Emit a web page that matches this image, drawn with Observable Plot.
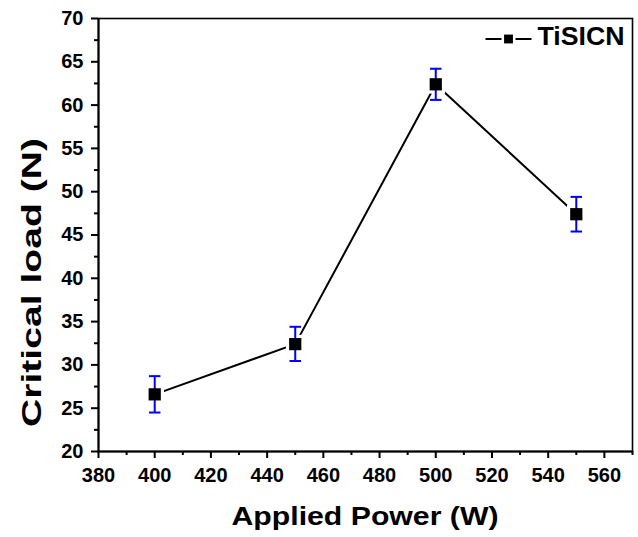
<!DOCTYPE html>
<html><head><meta charset="utf-8">
<script src="https://cdn.jsdelivr.net/npm/d3@7"></script>
<script src="https://cdn.jsdelivr.net/npm/@observablehq/plot@0.6"></script>
<style>
body{margin:0;background:#fff;font-family:"Liberation Sans",Arial,sans-serif}
</style>
</head><body><div id="chart"></div>
<script>
const power = [400, 450, 500, 550];
const load = [26.6, 32.4, 62.4, 47.4];
const errLow = [24.5, 30.45, 60.6, 45.4];
const errHigh = [28.7, 34.4, 64.2, 49.4];
const seriesName = "TiSICN";
const xLabel = "Applied Power (W)";
const yLabel = "Critical load (N)";
const xMajor = [380, 400, 420, 440, 460, 480, 500, 520, 540, 560];
const xMinor = [390, 410, 430, 450, 470, 490, 510, 530, 550, 570];
const yMajor = [20, 25, 30, 35, 40, 45, 50, 55, 60, 65, 70];
const yMinor = [22.5, 27.5, 32.5, 37.5, 42.5, 47.5, 52.5, 57.5, 62.5, 67.5];

const data = power.map((p, i) => ({p, v: load[i], lo: errLow[i], hi: errHigh[i]}));

const capSymbol = {draw(ctx, size) { const w = Math.sqrt(size) / 2; ctx.moveTo(-w, 0); ctx.lineTo(w, 0); }};
const legendLine = {draw(ctx, size) { ctx.moveTo(-23, 0); ctx.lineTo(-7, 0); ctx.moveTo(7, 0); ctx.lineTo(23, 0); }};

const chart = Plot.plot({
  width: 638, height: 537,
  marginTop: 18, marginBottom: 86, marginLeft: 98, marginRight: 6,
  style: {fontFamily: "'Liberation Sans', Arial, sans-serif", fontWeight: "bold", fontSize: "20px", background: "#fff", color: "#000"},
  x: {domain: [380, 570]},
  y: {domain: [20, 70]},
  marks: [
    Plot.frame({stroke: "#000", strokeWidth: 1.6}),
    Plot.axisX({ticks: xMinor, tickSize: 4, tickFormat: () => "", strokeWidth: 2, label: null}),
    Plot.axisY({ticks: yMinor, tickSize: 4, tickFormat: () => "", strokeWidth: 2, label: null}),
    Plot.axisX({ticks: xMajor, tickSize: 7, tickPadding: 9, fontSize: 20, fontWeight: "bold", strokeWidth: 2, label: null}),
    Plot.axisY({ticks: yMajor, tickSize: 7, tickPadding: 8, fontSize: 20, fontWeight: "bold", strokeWidth: 2, label: null}),
    Plot.ruleY([20], {stroke: "#000", strokeWidth: 2}),
    Plot.ruleX([380], {stroke: "#000", strokeWidth: 2}),
    Plot.line(data, {x: "p", y: "v", stroke: "#000", strokeWidth: 2}),
    Plot.dot(data, {x: "p", y: "v", symbol: "square", r: 10.5, fill: "#fff", stroke: null}),
    Plot.ruleX(data, {x: "p", y1: "lo", y2: "hi", stroke: "#0000ff", strokeWidth: 2}),
    Plot.dot(data, {x: "p", y: "lo", symbol: capSymbol, r: 6.5, stroke: "#0000ff", strokeWidth: 2, fill: null}),
    Plot.dot(data, {x: "p", y: "hi", symbol: capSymbol, r: 6.5, stroke: "#0000ff", strokeWidth: 2, fill: null}),
    Plot.dot(data, {x: "p", y: "v", symbol: "square", r: 6.9, fill: "#000", stroke: null}),
    Plot.dot([seriesName], {frameAnchor: "top-right", dx: -124, dy: 20.5, symbol: legendLine, r: 5, stroke: "#000", strokeWidth: 2, fill: null}),
    Plot.dot([seriesName], {frameAnchor: "top-right", dx: -124, dy: 20.5, symbol: "square", r: 5, fill: "#000", stroke: null}),
    Plot.text([seriesName], {frameAnchor: "top-right", text: d => d, dx: -8, dy: 18, lineAnchor: "middle", textAnchor: "end", fontSize: 25, fontWeight: "bold", fill: "#000"})
  ]
});
document.getElementById("chart").appendChild(chart);
const svg = d3.select(chart);
svg.selectAll("text").each(function() {
  const t = this.textContent.trim();
  if (t === seriesName) { this.setAttribute("textLength", 87); this.setAttribute("lengthAdjust", "spacingAndGlyphs"); }
});
svg.append("text")
  .attr("x", 231.5).attr("y", 525)
  .attr("font-size", 26).attr("font-weight", "bold").attr("fill", "#000")
  .attr("text-anchor", "start")
  .attr("textLength", 267).attr("lengthAdjust", "spacingAndGlyphs")
  .text(xLabel);
svg.append("text")
  .attr("transform", "translate(41,427) rotate(-90)")
  .attr("font-size", 28).attr("font-weight", "bold").attr("fill", "#000")
  .attr("text-anchor", "start")
  .attr("textLength", 289).attr("lengthAdjust", "spacingAndGlyphs")
  .text(yLabel);
</script>
</body></html>
